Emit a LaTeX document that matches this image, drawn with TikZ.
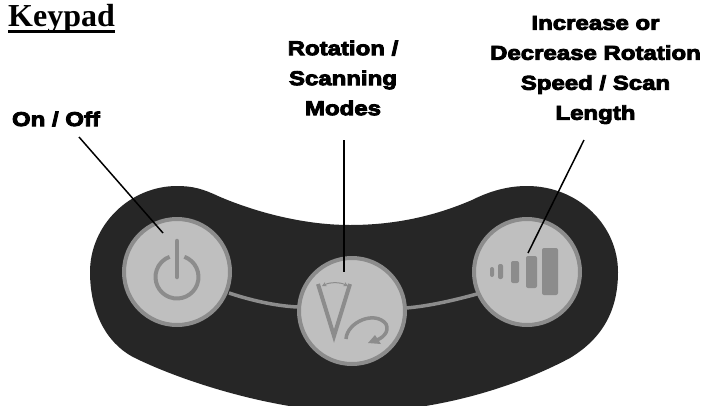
\documentclass[tikz,border=0pt]{standalone}
\usepackage{fontspec}
\setmainfont{Liberation Serif}
\newfontfamily\lblfont[FakeBold=4.5,FakeStretch=1.2]{Liberation Sans Bold}
\definecolor{padc}{gray}{0.15}
\definecolor{ringc}{gray}{0.55}
\definecolor{facec}{gray}{0.75}
\definecolor{iconc}{gray}{0.55}
\tikzset{
  lbl/.style={font=\lblfont\fontsize{20}{30}\selectfont,align=center,text=black,inner sep=0pt},
  lead/.style={draw=black,line width=1.5pt},
  btn/.style={circle,draw=ringc,fill=facec,line width=4pt,minimum size=106pt,inner sep=0pt},
  icn/.style={draw=iconc,line width=3.5pt},
  bar/.style={fill=iconc,rounded corners=2pt},
}
\begin{document}
\begin{tikzpicture}[x=1pt,y=-1pt]
\useasboundingbox (0,0) rectangle (707,405);
\fill[white] (0,0) rectangle (707,405);
% keypad body
\begin{scope}
\clip (0,0) rectangle (707,405);
\fill[padc] (177,186)
  .. controls (193,186) and (203,189) .. (218,196)
  .. controls (250,210) and (300,225) .. (350,225)
  .. controls (395,225) and (435,216) .. (472,200)
  .. controls (490,191) and (508,186) .. (527,186)
  .. controls (578,186) and (618,225) .. (618,272)
  .. controls (618,310) and (603,338) .. (570,358)
  .. controls (510,390) and (430,412) .. (355,412)
  .. controls (280,412) and (185,383) .. (133,357)
  .. controls (105,342) and (90,310) .. (90,272)
  .. controls (90,225) and (130,186) .. (177,186) -- cycle;
\end{scope}
% links between buttons
\draw[ringc,line width=3.5pt] (229,293) .. controls (250,300) and (275,306) .. (298,307);
\draw[ringc,line width=3.5pt] (406,308) .. controls (430,306) and (455,300) .. (477,294);
% buttons
\node[btn] (power) at (177,272) {};
\node[btn] (modes) at (352,311) {};
\node[btn] (speed) at (527,272) {};
% power icon
\draw[icn,line width=4pt] (177,277) ++(290:21.5) arc[start angle=290,end angle=610,radius=21.5];
\draw[ringc,line width=4.5pt,line cap=round] (177,241) -- (177,277);
% mode icon
\draw[icn,line width=4pt,line join=miter] (318,284) -- (334,336) -- (350,284);
\draw[iconc,line width=1pt,<->,>=stealth] (322,286) .. controls (330,282) and (340,282) .. (348,286);
\draw[icn] (346,339) .. controls (347,322) and (375,310) .. (386,324) .. controls (390,332) and (382,339) .. (374,341);
\fill[iconc] (368,343) -- (381,344) -- (375,335) -- cycle;
% speed icon
\fill[bar] (490,267) rectangle (494,277);
\fill[bar] (498,264) rectangle (503,279);
\fill[bar] (511,261) rectangle (519,283);
\fill[bar] (526,256) rectangle (537,288);
\fill[bar] (542,248) rectangle (558,295);
% text
\node[font=\bfseries\fontsize{32}{36}\selectfont,anchor=base west,inner sep=0pt] (title) at (8,26) {Keypad};
\fill[black] (8,29.5) rectangle (115,32.5);
\node[lbl] (lon) at (56,119) {On / Off};
\node[lbl] (lmodes) at (343,78) {Rotation /\\Scanning\\Modes};
\node[lbl] (lspeed) at (595.5,70) {Increase or\\Decrease Rotation\\Speed / Scan\\Length};
% leaders
\coordinate (pa) at (163,233);
\coordinate (pb) at (344,272);
\coordinate (pc) at (528,253);
\coordinate (sa) at (79,137);
\coordinate (sb) at (344,140);
\coordinate (sc) at (584,140);
\draw[lead] (sa) -- (pa);
\draw[lead] (sb) -- (pb);
\draw[lead] (sc) -- (pc);
\end{tikzpicture}
\end{document}
